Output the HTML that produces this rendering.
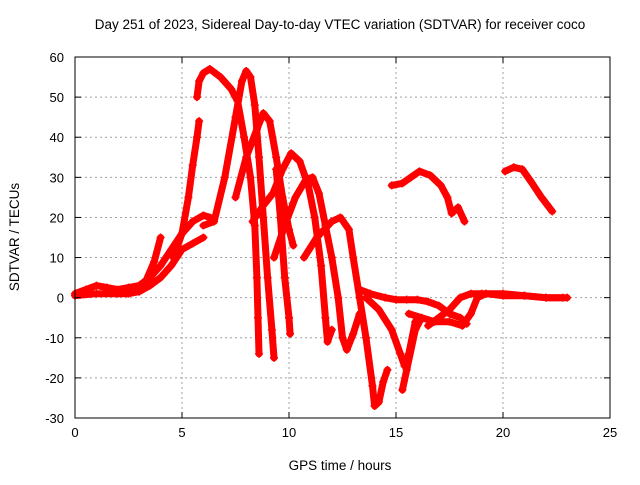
<!DOCTYPE html>
<html><head><meta charset="utf-8"><style>
body{margin:0;background:#fff}
svg text{font-family:"Liberation Sans",sans-serif;fill:#000}
</style></head><body>
<svg id="chart" width="640" height="480" viewBox="0 0 640 480" xmlns="http://www.w3.org/2000/svg">
<rect width="640" height="480" fill="#fff"/>
<text x="340" y="29" font-size="13.5" text-anchor="middle">Day 251 of 2023, Sidereal Day-to-day VTEC variation (SDTVAR) for receiver coco</text>
<g id="grid"></g>
<g id="series"></g>
<rect x="75" y="57" width="535" height="361" fill="none" stroke="#000" stroke-width="1"/>
<g id="ticks"></g>
<text x="340" y="470" font-size="13.5" text-anchor="middle">GPS time / hours</text>
<text transform="translate(19,237) rotate(-90)" font-size="13.5" text-anchor="middle">SDTVAR / TECUs</text>
</svg>
<script>
const xTicks=[0,5,10,15,20,25];
const yTicks=[-30,-20,-10,0,10,20,30,40,50,60];
const trackA=[[0,1],[0.5,2],[1,3],[1.5,2.5],[2,2],[2.5,2.5],[3,3],[3.5,5],[4,8],[4.5,12],[5,16],[5.5,19],[6,20.5],[6.3,20]];
const trackB=[[0,0.5],[1,1],[2,1],[2.5,1],[3,1.5],[3.5,3],[4,5],[4.5,8],[5,12],[5.5,13.5],[6,15]];
const trackC=[[3.3,4],[3.7,9],[4.0,15]];
const trackD=[[4.6,10],[5.0,16],[5.3,25],[5.5,33],[5.7,40],[5.8,44]];
const trackE=[[5.7,50],[5.8,54],[6.0,56],[6.3,57],[6.8,55],[7.3,52],[7.6,49],[7.9,40],[8.2,30],[8.4,18],[8.5,5],[8.55,-5],[8.6,-14]];
const trackF=[[6.0,18],[6.5,19],[7,30],[7.5,45],[7.8,54],[8.0,56.5],[8.2,55],[8.4,48],[8.6,35],[8.8,20],[9.0,5],[9.2,-8],[9.3,-15]];
const trackG=[[7.5,25],[8.0,35],[8.5,42],[8.8,46],[9.1,44],[9.4,35],[9.7,25],[10.0,17],[10.2,13]];
const trackH=[[8.3,19],[8.8,23],[9.25,26],[9.7,32],[10.1,36],[10.5,34],[10.9,28],[11.2,20],[11.5,8],[11.7,-5],[11.8,-11],[12,-8]];
const trackI=[[9.3,10],[9.8,18],[10.3,25],[10.8,29.5],[11.1,30],[11.4,26],[11.7,18],[12,10],[12.3,0],[12.5,-10],[12.7,-13],[13,-9],[13.3,-4]];
const trackJ=[[10.7,10],[11.3,15],[12,19],[12.4,20],[12.8,17],[13,10],[13.3,0],[13.6,-10],[13.9,-22],[14.0,-27],[14.2,-26],[14.4,-21],[14.6,-18]];
const trackK=[[13.3,2],[13.8,1],[14.5,0],[15,-0.5],[15.5,-0.5],[16,-0.5],[16.5,-1],[17,-2],[17.5,-4],[18,-5],[18.3,-6.5]];
const trackL=[[13.6,0],[14.2,-3],[14.8,-8],[15.2,-14],[15.4,-17],[15.6,-14],[15.9,-6]];
const trackM=[[15.6,-4],[16.2,-5],[16.8,-6],[17.5,-6],[18.1,-7],[18.5,-4],[18.8,0],[19.2,1],[20,0.5],[21,0.5],[22,0],[23,0]];
const trackN=[[16.5,-7],[17,-5],[17.5,-3],[18,0],[18.5,1],[19,1],[20,1],[21,0.5],[22,0],[22.8,0]];
const trackO=[[14.8,28],[15.3,28.5],[15.7,30],[16.1,31.5],[16.6,30.5],[17.1,28],[17.4,25],[17.6,21],[17.9,22.5],[18.2,19]];
const trackP=[[20.1,31.5],[20.5,32.5],[20.9,32],[21.3,29],[21.8,25],[22.3,21.5]];
const trackQ=[[15.3,-23],[15.5,-18],[15.9,-8],[16.1,-6]];
const trackR=[[9.4,32],[9.6,20],[9.8,5],[10.0,-5],[10.05,-9]];
const tracks=[trackA,trackB,trackC,trackD,trackE,trackF,trackG,trackH,trackI,trackJ,trackK,trackL,trackM,trackN,trackO,trackP,trackQ,trackR];
const NS="http://www.w3.org/2000/svg";
const X0=75,X1=610,Y0=418,Y1=57;
function xs(h){return X0+(h-0)/(25-0)*(X1-X0);}
function ys(v){return Y0-(v+30)/90*(Y0-Y1);}
const grid=document.getElementById('grid'),ticks=document.getElementById('ticks'),series=document.getElementById('series');
function mk(t,a,p){const e=document.createElementNS(NS,t);for(const k in a)e.setAttribute(k,a[k]);p.appendChild(e);return e;}
xTicks.forEach(t=>{
 const x=xs(t);
 if(t>0&&t<25){const g=mk('line',{x1:x,x2:x,y1:Y1,y2:Y0,stroke:'#a0a0a0','stroke-dasharray':'2,3'},grid);
 
 }
 mk('line',{x1:x,x2:x,y1:Y0,y2:Y0-6,stroke:'#000'},ticks);
 mk('line',{x1:x,x2:x,y1:Y1,y2:Y1+6,stroke:'#000'},ticks);
 const tx=mk('text',{x:x,y:Y0+19,'font-size':'13','text-anchor':'middle'},ticks);
 tx.textContent=t;
 
 
});
yTicks.forEach(t=>{
 const y=ys(t);
 if(t>-30&&t<60){const g=mk('line',{x1:X0,x2:X1,y1:y,y2:y,stroke:'#a0a0a0','stroke-dasharray':'2,3'},grid);
 
 }
 mk('line',{x1:X0,x2:X0+6,y1:y,y2:y,stroke:'#000'},ticks);
 mk('line',{x1:X1,x2:X1-6,y1:y,y2:y,stroke:'#000'},ticks);
 const tx=mk('text',{x:X0-11,y:y+5,'font-size':'13','text-anchor':'end'},ticks);
 tx.textContent=t;
 
 
});
tracks.forEach((tr,i)=>{
 const pts=tr.map(p=>xs(p[0]).toFixed(1)+','+ys(p[1]).toFixed(1)).join(' ');
 const pl=mk('polyline',{points:pts,fill:'none',stroke:'#ff0000','stroke-width':'7','stroke-linejoin':'round','stroke-linecap':'round'},series);
 
 
 tr.forEach(p=>{
  const x=xs(p[0]),y=ys(p[1]);
  const m=mk('path',{d:`M${x-4},${y}H${x+4}M${x},${y-4}V${y+4}`,stroke:'#ff0000','stroke-width':'1.5'},series);
  
  
 });
});
</script>
</body></html>
